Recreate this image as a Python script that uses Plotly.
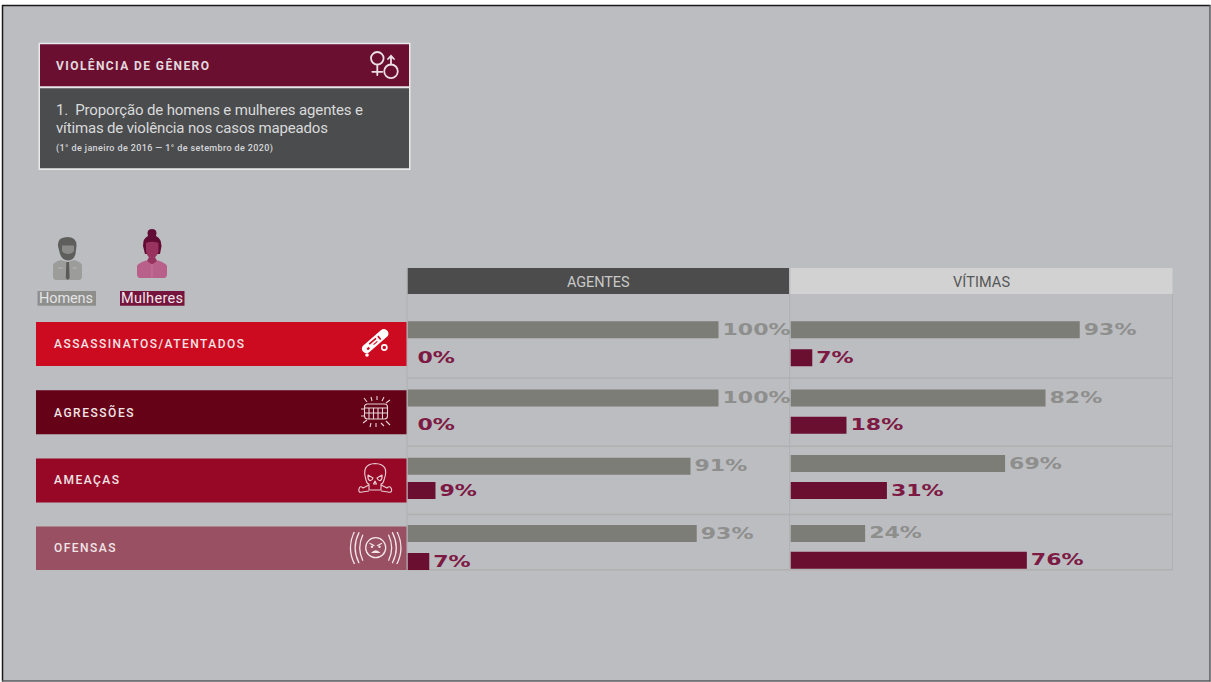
import base64
import json
import plotly.graph_objects as go

W, H = 1211, 682

# ---- data -------------------------------------------------------------
categories = ["ASSASSINATOS/ATENTADOS", "AGRESSÕES", "AMEAÇAS", "OFENSAS"]
agentes_homens = [100, 100, 91, 93]
agentes_mulheres = [0, 0, 9, 7]
vitimas_homens = [93, 82, 69, 24]
vitimas_mulheres = [7, 18, 31, 76]
panel_titles = ["AGENTES", "VÍTIMAS"]
legend_labels = ["Homens", "Mulheres"]
box_kicker = "VIOLÊNCIA DE GÊNERO"
box_lines = ["1.  Proporção de homens e mulheres agentes e",
             "vítimas de violência nos casos mapeados"]
box_period = "(1° de janeiro de 2016 — 1° de setembro de 2020)"

# ---- palette ----------------------------------------------------------
BG = "#BCBDC1"
GREY_BAR = "#7C7D77"
GREY_TEXT = "#8E8F8D"
WINE = "#6B0F31"
WINE_TEXT = "#7D1A44"
GRID = "#AFB0AF"
BAND_COLORS = ["#CC0A20", "#650217", "#970826", "#9A5063"]
PERCENT_STRETCH = 1.47

# ---- geometry helpers: pixel layout to paper / row units ---------------
ROW_PX = 68.2
ROW0_PX = 344.0
PX_PER_PCT = 3.11


def px(x):
    return x / W


def py(y):
    return 1 - y / H


def row_units(p):
    return p / ROW_PX


def rect(x0, y0, x1, y1, fill, line=None, lw=0):
    return dict(type="rect", xref="paper", yref="paper", layer="below",
                x0=px(x0), x1=px(x1), y0=py(y0), y1=py(y1), fillcolor=fill,
                line=dict(color=line or fill, width=lw))


def hline(x0, x1, y, color, width=1):
    return dict(type="line", xref="paper", yref="paper", layer="below",
                x0=px(x0), x1=px(x1), y0=py(y), y1=py(y),
                line=dict(color=color, width=width))


def vline(x, y0, y1, color, width=1):
    return dict(type="line", xref="paper", yref="paper", layer="below",
                x0=px(x), x1=px(x), y0=py(y0), y1=py(y1),
                line=dict(color=color, width=width))


def label(text, x, y, size, color, family="Roboto", weight=400):
    return dict(text=text, xref="paper", yref="paper", x=px(x), y=py(y),
                xanchor="left", yanchor="middle", showarrow=False,
                borderpad=0, borderwidth=0,
                font=dict(family=family, size=size, color=color, weight=weight))


def icon(x0, y0, w, h, body):
    svg = (f'<svg xmlns="http://www.w3.org/2000/svg" width="{w}" height="{h}" '
           f'viewBox="{x0} {y0} {w} {h}">{body}</svg>')
    uri = "data:image/svg+xml;base64," + base64.b64encode(svg.encode()).decode()
    return dict(source=uri, xref="paper", yref="paper", x=px(x0), y=py(y0),
                sizex=w / W, sizey=h / H, xanchor="left", yanchor="top",
                sizing="stretch", layer="above")


# ---- bars -------------------------------------------------------------
BAR_W = row_units(17)
GREY_OFFSET = row_units(-22.7)
WINE_OFFSET = row_units(5.3)


def offsets(base, nudges):
    return [base + row_units(n) for n in nudges]


def bars(values, color, text_color, xaxis, offset, weight):
    return go.Bar(
        y=categories, x=values, orientation="h", xaxis=xaxis, yaxis="y",
        marker=dict(color=color, line=dict(width=0)), width=BAR_W, offset=offset,
        text=[f"{v}%" for v in values], textposition="outside",
        constraintext="none", cliponaxis=False,
        textfont=dict(family="DejaVu Sans", size=15, color=text_color, weight=weight),
        hoverinfo="skip", showlegend=False,
    )


fig = go.Figure([
    bars(agentes_homens, GREY_BAR, GREY_TEXT, "x", offsets(GREY_OFFSET, [0, 0, 0, -0.9]), 700),
    bars(agentes_mulheres, WINE, WINE_TEXT, "x", offsets(WINE_OFFSET, [0, -0.8, -3.7, -0.9]), 700),
    bars(vitimas_homens, GREY_BAR, GREY_TEXT, "x2", offsets(GREY_OFFSET, [0, 0, -2.7, -1]), 700),
    bars(vitimas_mulheres, WINE, WINE_TEXT, "x2", offsets(WINE_OFFSET, [0, -0.8, -3.7, -2.2]), 700),
])

# ---- page furniture ---------------------------------------------------
shapes = [
    rect(2.5, 5.5, 1210, 681, BG),
    hline(2, 1210.5, 5.5, "#1A1A1A", 1.5),
    vline(2.5, 5, 681.5, "#1A1A1A", 1.5),
    hline(2, 1210.5, 681, "#5A5B5C", 1.5),
    vline(1210, 5, 681.5, "#5A5B5C", 1.5),
    # title box
    rect(38.5, 42.7, 410.5, 170, "#E9E9EA"),
    rect(40, 44.3, 409, 86.2, WINE),
    rect(40, 88.3, 409, 168.3, "#4B4C4E"),
    # legend chips
    rect(37.5, 291, 96, 305.7, "#8E8F8D"),
    rect(120, 291, 184.5, 305.7, "#75143C"),
    # panel headers
    rect(407.5, 268, 789, 294, "#4C4C4C"),
    rect(790.5, 268, 1172.5, 294, "#D2D2D2"),
    # table rules
    vline(407, 268, 570, GRID),
    vline(789.7, 294, 570, GRID),
    vline(1172.5, 294, 570, GRID),
    hline(407, 1172.5, 569.7, GRID, 1.5),
]
for i, c in enumerate(BAND_COLORS):
    half = row_units(22)
    shapes.append(dict(type="rect", xref="paper", yref="y", layer="below",
                       x0=px(36), x1=px(406.5), y0=i - half, y1=i + half,
                       fillcolor=c, line=dict(width=0)))
    if i < 3:
        shapes.append(dict(type="line", xref="paper", yref="y", layer="below",
                           x0=px(407), x1=px(1172.5), y0=i + 0.5, y1=i + 0.5,
                           line=dict(color=GRID, width=1.5)))

# ---- text -------------------------------------------------------------
annotations = [
    label(box_kicker, 56, 65.5, 12, "#E3D9DE", weight=700),
    label(box_lines[0], 56, 110.5, 15, "#D9DADB"),
    label(box_lines[1], 56, 128, 15, "#D9DADB"),
    label(box_period, 56, 148.5, 9, "#D6D7D8", weight=500),
    label(legend_labels[0], 39, 298.5, 14.5, "#E4E4E4"),
    label(legend_labels[1], 121, 298.5, 14.5, "#EFE6EA"),
    label(panel_titles[0], 566.5, 282, 14.5, "#C9C9C9"),
    label(panel_titles[1], 953, 282, 14.5, "#555657"),
]
BAND_TEXT_Y = [344, 412, 480, 548]
for cat, y in zip(categories, BAND_TEXT_Y):
    annotations.append(label(cat, 53.5, y, 12, "#F1E4E6", weight=500))

# tracked or condensed strings keep the measured run length in pixels
text_widths = {
    box_kicker: 153, box_lines[0]: 307, box_lines[1]: 272, box_period: 217,
    legend_labels[0]: 54, legend_labels[1]: 62,
    panel_titles[0]: 62.5, panel_titles[1]: 57,
    categories[0]: 190, categories[1]: 79.5, categories[2]: 65, categories[3]: 61.5,
}

# ---- icons ------------------------------------------------------------
STROKE = 'fill="none" stroke="#EADFE3" stroke-width="1.8" stroke-linecap="round"'
gender_icon = icon(368, 50, 34, 32, f"""
<g {STROKE}>
<circle cx="377.3" cy="58.3" r="6.3"/><path d="M377.3 64.6V75M372.3 71.8H382.3"/>
<circle cx="391" cy="71.3" r="6.8"/><path d="M391 64.5V56M388 59L391 55.8L394 59"/>
</g>""")

male_icon = icon(50, 234, 36, 48, """
<path d="M53 276 V265 Q54 262 61 260 L67.5 262 L74 260 Q81 262 82 265 V276 Q82 280 79 280 H56 Q53 280 53 276Z" fill="#9C9D9A"/>
<path d="M58 246 Q57 237.5 67 237 Q77 237 76.5 246 L75.5 254 Q74 260 68 260.5 Q62 260 60 254Z" fill="#5E5F5D"/>
<path d="M62 245.5 H74 V251 Q72 254 68 254 Q64 254 62 251Z" fill="#8A8B88"/>
<path d="M66.3 262 H69 L69.6 278 L67.7 280 L65.8 278Z" fill="#5A5B59"/>
<path d="M58 268 H63 M72.5 268 H77" stroke="#B6B7B4" stroke-width="1"/>
""")

female_icon = icon(134, 226, 36, 54, """
<path d="M137 274 V266 Q138 263 146 260.5 L152 262 L158 260.5 Q166 263 167 266 V274 Q167 278 164 278 H140 Q137 278 137 274Z" fill="#B8608A"/>
<path d="M143 246 Q143 238 148 236 Q146 229 152 229 Q158 229 156 236 Q161 238 161.5 246 L160 254 L145 254Z" fill="#610B35"/>
<path d="M146 243 Q152 240.5 158.5 243 V251 Q157 257.5 152 258.5 Q147 257.5 146 251Z" fill="#98325F"/>
<path d="M147 261 L152 264.5 L157 261 L155 257 H149Z" fill="#98325F"/>
<path d="M152 264 V278" stroke="#C9799E" stroke-width="0.8"/>
""")

knife_icon = icon(358, 324, 36, 36, """
<g transform="rotate(-41 375.5 341.5)">
<rect x="359.5" y="336.5" width="32" height="9" rx="4.2" fill="#FFFFFF"/>
<rect x="369" y="338.6" width="9" height="1.6" fill="#CC0A20"/>
<rect x="364" y="341" width="2.8" height="2.2" fill="#CC0A20"/>
<rect x="380" y="339" width="1.6" height="4.4" fill="#CC0A20"/>
<rect x="372" y="342" width="5" height="1.2" fill="#CC0A20"/>
</g>
<circle cx="384.3" cy="347.5" r="2.6" fill="none" stroke="#FFFFFF" stroke-width="1.6"/>
<circle cx="367" cy="355" r="1.8" fill="#FFFFFF"/>
""")

rays = "M364 398L367 402M371 397L372 401M377 396V400M384 397L382 401M390 400L386 403" \
       "M361 409H364M361 416H364M363 423L367 420M370 427L371 423M376 427V423M384 426L381 423M390 425L386 421"
brick_icon = icon(358, 394, 36, 36, f"""
<g fill="none" stroke="#E6D3D8" stroke-width="1.1">
<path d="M{rays[1:]}"/>
<rect x="364.5" y="404" width="23" height="15" rx="3"/>
<path d="M365 408H387M365 413H387M369 408V419M373.5 408V419M378 408V419M382.5 408V419"/>
</g>""")

skull_icon = icon(356, 460, 40, 36, """
<g fill="none" stroke="#E6CDD3" stroke-width="1.1" stroke-linejoin="round">
<path d="M366 480 Q361 464 375 463.5 Q390 464 384 480 Q383 484 381 484 V490 H369 V484 Q367 484 366 480Z"/>
<path d="M368 475 L373 478 Q372 481 369.5 480.5 Q367.5 479 368 475Z"/>
<path d="M382 475 L377 478 Q378 481 380.5 480.5 Q382.5 479 382 475Z"/>
<path d="M375 481 L373.5 484 H376.5Z"/>
<path d="M369 485 L363 488 Q360 485 359 489 Q358 493 362 492 L369 491"/>
<path d="M381 485 L387 488 Q390 485 391.5 489 Q392.5 493 388 492 L381 491"/>
</g>""")

arcs = ""
for r in (15.5, 20, 24.5):
    dy = 4 + r * 0.55
    arcs += (f'<path d="M{375.7 - r * 0.84:.1f} {547.7 - dy:.1f} Q{375.7 - r * 1.22:.1f} 547.7 '
             f'{375.7 - r * 0.84:.1f} {547.7 + dy:.1f}"/>'
             f'<path d="M{375.7 + r * 0.84:.1f} {547.7 - dy:.1f} Q{375.7 + r * 1.22:.1f} 547.7 '
             f'{375.7 + r * 0.84:.1f} {547.7 + dy:.1f}"/>')
shout_icon = icon(348, 532, 56, 32, f"""
<g fill="none" stroke="#F1E6E9" stroke-width="1.3" stroke-linecap="round">
{arcs}
<circle cx="375.7" cy="547.7" r="10"/>
<path d="M370 543.5L374 545.5M381.5 543.5L377.5 545.5"/>
</g>
<circle cx="372" cy="546.8" r="1.2" fill="#F1E6E9"/><circle cx="379.5" cy="546.8" r="1.2" fill="#F1E6E9"/>
<path d="M371 553 Q375.7 547.5 380.5 553Z" fill="#F1E6E9"/>
""")

# ---- layout -----------------------------------------------------------
PANEL_A = (407.5, 789.5)
PANEL_B = (790.5, 1172.5)
hidden = dict(visible=False, fixedrange=True)
fig.update_layout(
    width=W, height=H, autosize=False,
    margin=dict(l=0, r=0, t=0, b=0, pad=0),
    paper_bgcolor="#FFFFFF", plot_bgcolor="rgba(0,0,0,0)",
    barmode="overlay", showlegend=False,
    xaxis=dict(hidden, domain=[px(PANEL_A[0]), px(PANEL_A[1])],
               range=[0, (PANEL_A[1] - PANEL_A[0]) / PX_PER_PCT]),
    xaxis2=dict(hidden, domain=[px(PANEL_B[0]), px(PANEL_B[1])], anchor="y",
                range=[0, (PANEL_B[1] - PANEL_B[0]) / PX_PER_PCT]),
    yaxis=dict(hidden, type="category", categoryorder="array", categoryarray=categories,
               domain=[py(570), py(294)],
               range=[(570 - ROW0_PX) / ROW_PX, (294 - ROW0_PX) / ROW_PX]),
    shapes=shapes, annotations=annotations,
    images=[gender_icon, male_icon, female_icon, knife_icon, brick_icon, skull_icon, shout_icon],
)

# Display faces here are wider than the installed fonts: stretch the percent
# labels and space the captions out to their measured lengths.
post_script = """
var gd = document.getElementById('{plot_id}');
var widths = %s, stretch = %s;
function fit(el, len, adjust, dx) {
  var before = el.getBBox().x;
  el.setAttribute('textLength', len);
  el.setAttribute('lengthAdjust', adjust);
  var after = el.getBBox().x;
  el.setAttribute('x', parseFloat(el.getAttribute('x') || 0) + before - after + dx);
}
gd.querySelectorAll('.annotation-text').forEach(function (el) {
  var len = widths[el.textContent];
  if (len) fit(el, len, 'spacing', 0);
});
gd.querySelectorAll('.bartext').forEach(function (el) {
  var dx = el.textContent === '0%%' ? 7 : 1;
  fit(el, el.getComputedTextLength() * stretch, 'spacingAndGlyphs', dx);
});
""" % (json.dumps(text_widths, ensure_ascii=False), PERCENT_STRETCH)

fig.write_html("out.html", post_script=post_script, config=dict(displayModeBar=False))
